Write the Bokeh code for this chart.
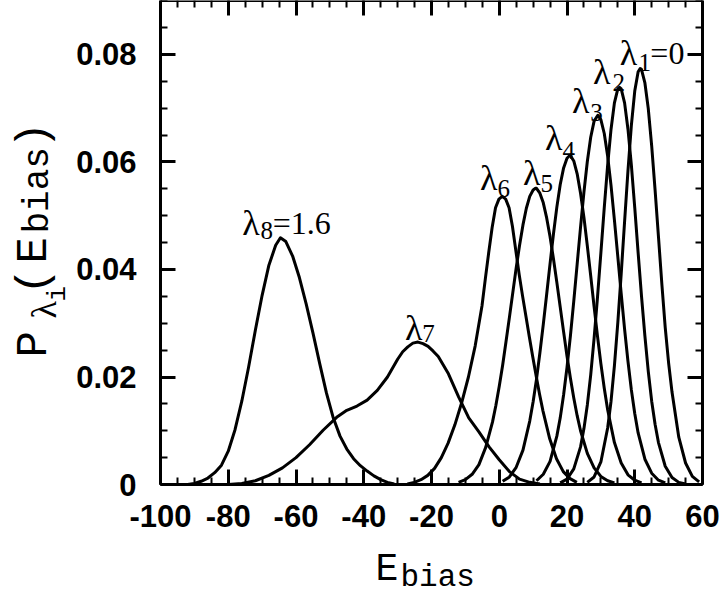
import math
from bokeh.plotting import figure
from bokeh.models import Range1d, LinearAxis, FixedTicker, ColumnDataSource, Label
from bokeh.core.properties import value
from bokeh.embed import file_html
from bokeh.resources import INLINE

# ---------------- data ----------------
E1 = [26, 28, 30, 32, 33, 34, 35, 36, 37, 38, 39, 40, 41, 41.6, 42, 43, 44, 45, 46, 47, 48, 49, 50, 51, 53, 55, 57, 59]
P1 = [0.0004, 0.0014, 0.0042, 0.0105, 0.0155, 0.0221, 0.0301, 0.0392, 0.0489, 0.0584, 0.0668, 0.0732, 0.0768, 0.0774,
      0.0772, 0.0747, 0.0699, 0.0630, 0.0548, 0.0461, 0.0373, 0.0292, 0.0226, 0.0172, 0.0088, 0.0040, 0.0015, 0.0005]

E2 = [18, 20, 22, 24, 25, 26, 27, 28, 29, 30, 31, 32, 33, 34, 35, 35.5, 36, 37, 38, 39, 40, 41, 42, 43, 44, 45, 46, 47, 49, 51, 53, 55]
P2 = [0.0003, 0.0010, 0.0029, 0.0070, 0.0104, 0.0148, 0.0204, 0.0272, 0.0348, 0.0431, 0.0515, 0.0594, 0.0661, 0.0710,
      0.0736, 0.0739, 0.0736, 0.0710, 0.0661, 0.0594, 0.0515, 0.0431, 0.0350, 0.0276, 0.0210, 0.0155, 0.0112, 0.0078,
      0.0034, 0.0013, 0.0004, 0.0001]

E3 = [11, 13, 15, 17, 18, 19, 20, 21, 22, 23, 24, 25, 26, 27, 28, 29.1, 30, 31, 32, 33, 34, 35, 36, 37, 38, 39, 40, 41, 43, 45, 47, 49]
P3 = [0.0007, 0.0019, 0.0043, 0.0090, 0.0124, 0.0167, 0.0218, 0.0276, 0.0341, 0.0410, 0.0479, 0.0544, 0.0601, 0.0646,
      0.0676, 0.0687, 0.0679, 0.0653, 0.0611, 0.0556, 0.0492, 0.0424, 0.0355, 0.0289, 0.0229, 0.0176, 0.0132, 0.0096,
      0.0047, 0.0021, 0.0008, 0.0003]

E4 = [1, 3, 5, 7, 9, 10, 11, 12, 13, 14, 15, 16, 17, 18, 19, 20, 20.8, 21, 22, 23, 24, 25, 26, 27, 28, 29, 30, 31, 32,
      34, 36, 38, 40, 42]
P4 = [0.0006, 0.0014, 0.0032, 0.0064, 0.0118, 0.0154, 0.0196, 0.0245, 0.0298, 0.0354, 0.0411, 0.0466, 0.0516, 0.0558,
      0.0589, 0.0607, 0.0612, 0.0612, 0.0602, 0.0578, 0.0542, 0.0497, 0.0444, 0.0388, 0.0331, 0.0276, 0.0225, 0.0179,
      0.0139, 0.0078, 0.0040, 0.0018, 0.0008, 0.0003]

E5 = [-12, -10, -8, -6, -4, -2, -1, 0, 1, 2, 3, 4, 5, 6, 7, 8, 9, 10, 10.7, 11, 12, 13, 14, 15, 16, 17, 18, 19, 20, 21,
      22, 23, 24, 26, 28, 30, 32, 34]
P5 = [0.0004, 0.0009, 0.0019, 0.0037, 0.0069, 0.0116, 0.0147, 0.0183, 0.0222, 0.0266, 0.0311, 0.0357, 0.0403, 0.0445,
      0.0483, 0.0514, 0.0536, 0.0548, 0.0551, 0.0551, 0.0542, 0.0524, 0.0496, 0.0461, 0.0420, 0.0376, 0.0330, 0.0284,
      0.0239, 0.0198, 0.0161, 0.0128, 0.0100, 0.0058, 0.0031, 0.0015, 0.0007, 0.0003]

E6 = [-27.1, -25.1, -23.1, -21.1, -19.1, -17.1, -15.1, -13.1, -11.1, -9.1, -7.1, -5.1, -4.1, -3.1, -2.1, -1.1, -0.1,
      0.9, 1.9, 2.9, 3.9, 4.9, 5.9, 6.9, 7.9, 8.9, 9.9, 10.9, 11.9, 12.9, 14.9, 16.9, 18.9, 20.9, 22.9]
P6 = [0.0001, 0.0004, 0.0009, 0.0017, 0.0030, 0.0050, 0.0077, 0.0111, 0.0152, 0.0200, 0.0258, 0.0332, 0.0383, 0.0432,
      0.0478, 0.0515, 0.0531, 0.0536, 0.0531, 0.0515, 0.0480, 0.0435, 0.0390, 0.0350, 0.0312, 0.0274, 0.0237, 0.0202,
      0.0168, 0.0137, 0.0085, 0.0048, 0.0024, 0.0011, 0.0004]

E7 = [-80, -76, -72, -68, -64, -60, -56, -52, -48, -45, -42, -39, -36, -33, -30, -28.5, -27, -25.5, -24, -22.5, -21,
      -19.5, -18, -15, -12, -9, -6, -3, 0, 3, 6, 9, 12]
P7 = [0.0000, 0.0002, 0.0007, 0.0017, 0.0031, 0.0050, 0.0074, 0.0101, 0.0125, 0.0138, 0.0146, 0.0157, 0.0175, 0.0200,
      0.0233, 0.0247, 0.0256, 0.0263, 0.0265, 0.0262, 0.0257, 0.0248, 0.0238, 0.0206, 0.0163, 0.0124, 0.0098, 0.0070,
      0.0046, 0.0024, 0.0010, 0.0004, 0.0001]

E8 = [-92, -90, -88, -86, -84, -82, -80, -78, -76, -74, -72, -70, -68, -66, -64.6, -63, -61, -59, -57, -55, -53, -51,
      -49, -47, -45, -43, -41, -39, -37, -35, -33, -31]
P8 = [0.0000, 0.0002, 0.0006, 0.0012, 0.0022, 0.0036, 0.0062, 0.0102, 0.0155, 0.0218, 0.0287, 0.0352, 0.0408, 0.0445,
      0.0459, 0.0452, 0.0425, 0.0385, 0.0336, 0.0282, 0.0225, 0.0170, 0.0124, 0.0090, 0.0066, 0.0048, 0.0035, 0.0025,
      0.0016, 0.0009, 0.0004, 0.0001]

x_ticks = [-100, -80, -60, -40, -20, 0, 20, 40, 60]
x_tick_labels = ["-100", "-80", "-60", "-40", "-20", "0", "20", "40", "60"]
y_ticks = [0, 0.02, 0.04, 0.06, 0.08]
y_tick_labels = ["0", "0.02", "0.04", "0.06", "0.08"]
x_limits = (-100, 60)
y_limits = (0, 0.09)

# curve annotations (text pieces)
lab_text = ["λ", "1", "=0", "λ", "2", "λ", "3", "λ", "4", "λ", "5", "λ", "6", "λ", "7", "λ", "8", "=1.6"]

# ---------------- layout / style ----------------
lab_x = [35.6, 41.1, 44.6, 27.7, 33.4, 21.5, 26.9, 13.5, 18.7, 7.0, 12.2, -5.7, -0.5, -27.8, -22.7, -75.9, -70.5, -66.9]
lab_y = [0.0802, 0.0785, 0.0802, 0.0767, 0.0748, 0.0714, 0.0692, 0.0644, 0.0621, 0.0579, 0.0560, 0.0571, 0.0551,
         0.0292, 0.0281, 0.0487, 0.0473, 0.0487]
lab_size = ["36px", "25px", "32px", "36px", "25px", "36px", "25px", "36px", "25px", "36px", "25px", "36px", "25px",
            "36px", "25px", "36px", "25px", "32px"]

x_minor = [v for v in range(-100, 61, 5)]
y_minor = [k * 0.005 for k in range(0, 19)]

W, H = 720, 594
# plot box in canvas pixels: x -100 -> 160, 60 -> 702 ; y 0 -> 484
sx = (702 - 160) / (x_limits[1] - x_limits[0])
sy = (484 - 0) / 0.0900465
x0 = x_limits[0] - 160 / sx
x1 = x0 + W / sx
y1 = 484 / sy
y0 = y1 - H / sy

p = figure(width=W, height=H, output_backend="svg", toolbar_location=None,
           x_range=Range1d(x0, x1), y_range=Range1d(y0, y1),
           x_axis_location=None, y_axis_location=None, min_border=0)
p.grid.visible = False
p.outline_line_color = None
p.background_fill_color = "white"
p.border_fill_color = "white"


def style_axis(ax, ticks, labels, show, standoff):
    ax.axis_line_width = 3
    ax.axis_line_color = "black"
    ax.major_tick_line_color = "black"
    ax.minor_tick_line_color = "black"
    ax.major_tick_line_width = 3
    ax.minor_tick_line_width = 2
    ax.major_tick_in = 15
    ax.major_tick_out = 0
    ax.minor_tick_in = 7
    ax.minor_tick_out = 0
    if show:
        ax.major_label_overrides = {t: l for t, l in zip(ticks, labels)}
        ax.major_label_text_font = "Liberation Sans"
        ax.major_label_text_font_style = "bold"
        ax.major_label_text_font_size = "31px"
        ax.major_label_text_color = "black"
        ax.major_label_standoff = standoff
    else:
        ax.major_label_overrides = {t: "" for t in ticks}
        ax.major_label_text_font_size = "0px"
        ax.major_label_standoff = 0


for loc, fixed in [("below", y_limits[0]), ("above", y_limits[1])]:
    ax = LinearAxis(ticker=FixedTicker(ticks=x_ticks, minor_ticks=x_minor),
                    fixed_location=fixed, bounds=x_limits)
    style_axis(ax, x_ticks, x_tick_labels, loc == "below", 20)
    p.add_layout(ax, loc)
for loc, fixed in [("left", x_limits[0]), ("right", x_limits[1])]:
    ax = LinearAxis(ticker=FixedTicker(ticks=y_ticks, minor_ticks=y_minor),
                    fixed_location=fixed, bounds=y_limits)
    style_axis(ax, y_ticks, y_tick_labels, loc == "left", 24)
    p.add_layout(ax, loc)

for E, P in [(E1, P1), (E2, P2), (E3, P3), (E4, P4), (E5, P5), (E6, P6), (E7, P7), (E8, P8)]:
    p.line(E, P, line_width=3, line_color="black", line_join="round")

src = ColumnDataSource(dict(x=lab_x, y=lab_y, text=lab_text, size=lab_size))
p.text(x="x", y="y", text="text", text_font_size="size", source=src,
       text_font=value("Liberation Serif"), text_color="black",
       text_align="left", text_baseline="alphabetic")

# axis titles built from pieces (screen px from the canvas' left/bottom)
pieces = [
    ("E", 375, 25, "38px", "Liberation Mono", 0.0),
    ("bias", 400, 17, "31px", "Liberation Mono", 0.0),
    ("P", 33, 237, "44px", "Liberation Mono", math.pi / 2),
    ("λ", 43, 276, "36px", "Liberation Serif", math.pi / 2),
    ("i", 57, 293, "26px", "Liberation Mono", math.pi / 2),
    ("(", 33, 300, "44px", "Liberation Mono", math.pi / 2),
    ("E", 33, 331, "44px", "Liberation Mono", math.pi / 2),
    ("bias", 38, 361, "36px", "Liberation Mono", math.pi / 2),
    (")", 33, 446, "44px", "Liberation Mono", math.pi / 2),
]
for txt, xs, ys, size, font, ang in pieces:
    p.add_layout(Label(x=xs, y=ys, x_units="screen", y_units="screen", text=txt, angle=ang,
                       text_font=font, text_font_size=size, text_color="black",
                       text_align="left", text_baseline="alphabetic"))

open("out.html", "w").write(file_html(p, INLINE))
